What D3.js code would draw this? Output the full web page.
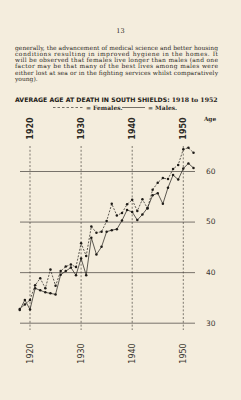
<!DOCTYPE html>
<html>
<head>
<meta charset="utf-8">
<script src="https://cdn.jsdelivr.net/npm/d3@7"></script>
<style>
  body { margin: 0; background: #f4eddd; }
  svg { display: block; }
  .para { font-family: 'DejaVu Serif', serif; fill: #2b2823; }
  .title { font-family: 'DejaVu Sans', sans-serif; font-weight: bold; fill: #1f1c18; }
  .legend { font-family: 'DejaVu Serif', serif; font-size: 6px; font-weight: bold; fill: #2b2823; }
  .yr-top { font-family: 'DejaVu Sans', sans-serif; font-size: 8px; font-weight: bold; fill: #2b2823; }
  .yr-bot { font-family: 'DejaVu Sans', sans-serif; font-size: 8px; fill: #3a3630; }
  .age { font-family: 'DejaVu Sans', sans-serif; font-size: 7.5px; fill: #3a3630; }
</style>
</head>
<body>
<div id="chart"></div>
<script>
var width = 241, height = 400

var years = d3.range(1918, 1953)
var females = [32.7, 33.6, 34.5, 37.4, 38.8, 36.8, 40.5, 37.3, 40.2, 41.1,
               41.5, 41.0, 45.7, 43.2, 49.0, 47.8, 48.0, 50.1, 53.5, 51.2,
               51.7, 53.4, 54.3, 52.1, 54.4, 52.6, 56.3, 57.7, 58.6, 58.4,
               60.4, 61.2, 64.3, 64.6, 63.6]
var males = [32.5, 34.5, 32.6, 36.8, 36.4, 36.0, 35.8, 35.6, 39.5, 40.2,
             40.9, 39.4, 42.7, 39.4, 46.8, 43.5, 45.0, 48.0, 48.3, 48.5,
             50.2, 52.3, 51.9, 50.3, 51.4, 52.7, 55.2, 55.6, 53.5, 56.7,
             59.2, 58.3, 60.5, 61.5, 60.6]
var decades = [1920, 1930, 1940, 1950]
var ageTicks = [30, 40, 50, 60]

var paragraph = [
    'generally, the advancement of medical science and better housing',
    'conditions resulting in improved hygiene in the homes. It',
    'will be observed that females live longer than males (and one',
    'factor may be that many of the best lives among males were',
    'either lost at sea or in the fighting services whilst comparatively',
    'young).'
]

var textWidth = 203

var svg = d3.select('#chart').append('svg')
    .attr('width', width)
    .attr('height', height)

svg.append('rect')
    .attr('width', width)
    .attr('height', height)
    .attr('fill', '#f4eddd')

// page number
svg.append('text')
    .attr('class', 'para')
    .attr('x', 120.5)
    .attr('y', 33)
    .attr('text-anchor', 'middle')
    .style('font-size', '6.5px')
    .text('13')

// justified paragraph: shrink to fit the widest line, then spread the rest
var lines = paragraph.map(function (line, i) {
    return svg.append('text')
        .attr('class', 'para')
        .attr('x', 15)
        .attr('y', 49.5 + i * 6.3)
        .style('font-size', '6.2px')
        .text(line)
})
var widest = d3.max(lines, function (t) { return t.node().getComputedTextLength() })
var paraSize = Math.min(6.2, 6.2 * textWidth / widest * 0.985)
lines.forEach(function (t, i) {
    t.style('font-size', paraSize + 'px')
    if (i < lines.length - 1) {
        t.attr('textLength', textWidth).attr('lengthAdjust', 'spacing')
    }
})

// title, sized to the text column
var title = svg.append('text')
    .attr('class', 'title')
    .attr('x', 15)
    .attr('y', 101.5)
    .style('font-size', '7px')
title.append('tspan').text('AVERAGE AGE AT DEATH IN SOUTH SHIELDS: ')
title.append('tspan').style('font-family', "'DejaVu Serif', serif").text('1918 to 1952')
var tw = title.node().getComputedTextLength()
title.style('font-size', (7 * textWidth / tw) + 'px')

// legend
var legend = svg.append('g')
legend.append('line')
    .attr('x1', 53).attr('x2', 84).attr('y1', 107.5).attr('y2', 107.5)
    .attr('stroke', '#3a3630').attr('stroke-width', 0.7)
    .attr('stroke-dasharray', '2.5,2')
legend.append('text').attr('class', 'legend')
    .attr('x', 86).attr('y', 109.7).text('= Females.')
legend.append('line')
    .attr('x1', 122).attr('x2', 145).attr('y1', 107.5).attr('y2', 107.5)
    .attr('stroke', '#3a3630').attr('stroke-width', 0.7)
legend.append('text').attr('class', 'legend')
    .attr('x', 148).attr('y', 109.7).text('= Males.')

// scales
var x = d3.scaleLinear().domain([1920, 1950]).range([30, 183.3])
var y = d3.scaleLinear().domain([30, 60]).range([322.7, 171])

// horizontal rules + age labels
var yAxis = d3.axisRight(y)
    .tickValues(ageTicks)
    .tickSize(-175)
    .tickPadding(11)
    .tickFormat(d3.format('d'))
var ga = svg.append('g')
    .attr('transform', 'translate(195,0)')
    .call(yAxis)
ga.select('.domain').remove()
ga.selectAll('.tick line')
    .attr('stroke', '#77726a')
    .attr('stroke-width', 1)
ga.selectAll('.tick text')
    .attr('class', 'age')
    .attr('fill', '#3a3630')
    .attr('font-family', null)
    .attr('font-size', null)

svg.append('text')
    .attr('class', 'legend')
    .attr('x', 210)
    .attr('y', 121)
    .attr('text-anchor', 'middle')
    .style('font-size', '5.8px')
    .text('Age')

// vertical dashed decade lines
svg.append('g').selectAll('line')
    .data(decades)
    .join('line')
    .attr('x1', x).attr('x2', x)
    .attr('y1', 146).attr('y2', 330)
    .attr('stroke', '#4a463f')
    .attr('stroke-width', 0.7)
    .attr('stroke-dasharray', '2,1.8')

// decade labels (top bold, bottom light)
svg.append('g').selectAll('text')
    .data(decades)
    .join('text')
    .attr('class', 'yr-top')
    .attr('transform', function (d) { return 'translate(' + (x(d) + 2.8) + ',128.5) rotate(-90)' })
    .attr('text-anchor', 'middle')
    .text(function (d) { return d })

svg.append('g').selectAll('text')
    .data(decades)
    .join('text')
    .attr('class', 'yr-bot')
    .attr('transform', function (d) { return 'translate(' + (x(d) + 2.8) + ',353.5) rotate(-90)' })
    .attr('text-anchor', 'middle')
    .text(function (d) { return d })

// series
var line = d3.line()
    .x(function (d, i) { return x(years[i]) })
    .y(function (d) { return y(d) })

function drawSeries(values, dash) {
    var g = svg.append('g')
    g.append('path')
        .datum(values)
        .attr('d', line)
        .attr('fill', 'none')
        .attr('stroke', '#2b2823')
        .attr('stroke-width', 0.75)
        .attr('stroke-dasharray', dash)
    g.selectAll('circle')
        .data(values)
        .join('circle')
        .attr('cx', function (d, i) { return x(years[i]) })
        .attr('cy', function (d) { return y(d) })
        .attr('r', 1.25)
        .attr('fill', '#1f1c18')
}

drawSeries(females, '2,1.4')
drawSeries(males, null)
</script>
</body>
</html>
